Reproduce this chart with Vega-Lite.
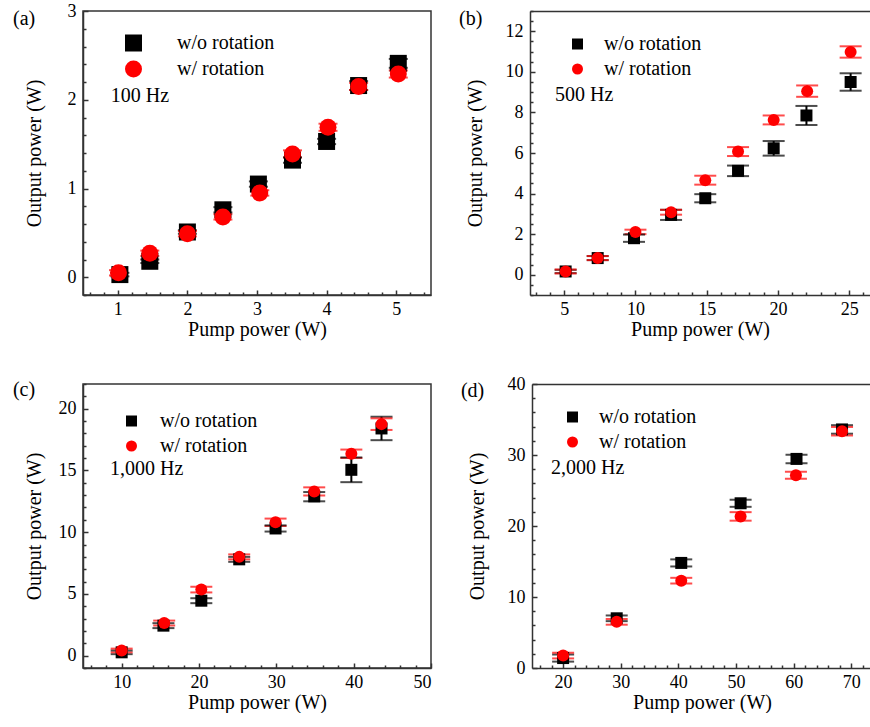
{
  "$schema": "https://vega.github.io/schema/vega-lite/v6.json",
  "padding": {"left": 12, "top": 1, "right": 0, "bottom": 0},
  "background": "white",
  "config": {
    "font": "Liberation Serif",
    "axis": {"domainColor": "#333", "domainWidth": 1.5, "tickColor": "#333", "tickWidth": 1.5, "labelFont": "Liberation Serif", "labelFontSize": 18, "labelColor": "#000", "titleFont": "Liberation Serif", "titleFontSize": 20, "titleFontWeight": "normal", "titleColor": "#000", "grid": false},
    "legend": {"labelFont": "Liberation Serif", "labelFontSize": 20, "labelColor": "#000", "padding": 0, "symbolStrokeWidth": 0},
    "text": {"font": "Liberation Serif", "fontSize": 20, "color": "#000"}
  },
  "datasets": {
    "a": [
      {"x": 1.03, "y": 0.03, "lo": 0.01, "hi": 0.05, "s": "w/o rotation"},
      {"x": 1.46, "y": 0.18, "lo": 0.16, "hi": 0.20, "s": "w/o rotation"},
      {"x": 2.00, "y": 0.51, "lo": 0.49, "hi": 0.53, "s": "w/o rotation"},
      {"x": 2.51, "y": 0.76, "lo": 0.73, "hi": 0.79, "s": "w/o rotation"},
      {"x": 3.02, "y": 1.05, "lo": 1.02, "hi": 1.08, "s": "w/o rotation"},
      {"x": 3.51, "y": 1.32, "lo": 1.29, "hi": 1.35, "s": "w/o rotation"},
      {"x": 4.00, "y": 1.53, "lo": 1.50, "hi": 1.56, "s": "w/o rotation"},
      {"x": 4.46, "y": 2.16, "lo": 2.11, "hi": 2.21, "s": "w/o rotation"},
      {"x": 5.03, "y": 2.41, "lo": 2.36, "hi": 2.46, "s": "w/o rotation"},
      {"x": 1.01, "y": 0.05, "lo": 0.02, "hi": 0.08, "s": "w/ rotation"},
      {"x": 1.46, "y": 0.27, "lo": 0.24, "hi": 0.30, "s": "w/ rotation"},
      {"x": 2.00, "y": 0.49, "lo": 0.46, "hi": 0.52, "s": "w/ rotation"},
      {"x": 2.51, "y": 0.68, "lo": 0.65, "hi": 0.71, "s": "w/ rotation"},
      {"x": 3.04, "y": 0.95, "lo": 0.92, "hi": 0.98, "s": "w/ rotation"},
      {"x": 3.51, "y": 1.39, "lo": 1.35, "hi": 1.43, "s": "w/ rotation"},
      {"x": 4.02, "y": 1.69, "lo": 1.65, "hi": 1.73, "s": "w/ rotation"},
      {"x": 4.46, "y": 2.15, "lo": 2.11, "hi": 2.19, "s": "w/ rotation"},
      {"x": 5.03, "y": 2.29, "lo": 2.25, "hi": 2.33, "s": "w/ rotation"}
    ],
    "b": [
      {"x": 5.1, "y": 0.16, "lo": 0.08, "hi": 0.24, "s": "w/o rotation"},
      {"x": 7.35, "y": 0.82, "lo": 0.72, "hi": 0.92, "s": "w/o rotation"},
      {"x": 9.9, "y": 1.80, "lo": 1.62, "hi": 1.98, "s": "w/o rotation"},
      {"x": 12.5, "y": 2.95, "lo": 2.70, "hi": 3.20, "s": "w/o rotation"},
      {"x": 14.9, "y": 3.77, "lo": 3.57, "hi": 3.97, "s": "w/o rotation"},
      {"x": 17.2, "y": 5.12, "lo": 4.86, "hi": 5.38, "s": "w/o rotation"},
      {"x": 19.7, "y": 6.23, "lo": 5.87, "hi": 6.59, "s": "w/o rotation"},
      {"x": 22.0, "y": 7.85, "lo": 7.38, "hi": 8.32, "s": "w/o rotation"},
      {"x": 25.1, "y": 9.50, "lo": 9.07, "hi": 9.93, "s": "w/o rotation"},
      {"x": 5.1, "y": 0.16, "lo": 0.06, "hi": 0.26, "s": "w/ rotation"},
      {"x": 7.35, "y": 0.82, "lo": 0.72, "hi": 0.92, "s": "w/ rotation"},
      {"x": 10.0, "y": 2.10, "lo": 2.00, "hi": 2.22, "s": "w/ rotation"},
      {"x": 12.5, "y": 3.08, "lo": 2.96, "hi": 3.20, "s": "w/ rotation"},
      {"x": 14.9, "y": 4.66, "lo": 4.44, "hi": 4.88, "s": "w/ rotation"},
      {"x": 17.2, "y": 6.07, "lo": 5.85, "hi": 6.29, "s": "w/ rotation"},
      {"x": 19.7, "y": 7.63, "lo": 7.41, "hi": 7.85, "s": "w/ rotation"},
      {"x": 22.05, "y": 9.05, "lo": 8.77, "hi": 9.33, "s": "w/ rotation"},
      {"x": 25.1, "y": 10.98, "lo": 10.70, "hi": 11.26, "s": "w/ rotation"}
    ],
    "c": [
      {"x": 10.0, "y": 0.27, "lo": 0.12, "hi": 0.42, "s": "w/o rotation"},
      {"x": 15.4, "y": 2.43, "lo": 2.23, "hi": 2.63, "s": "w/o rotation"},
      {"x": 20.3, "y": 4.45, "lo": 4.25, "hi": 4.65, "s": "w/o rotation"},
      {"x": 25.2, "y": 7.80, "lo": 7.60, "hi": 8.00, "s": "w/o rotation"},
      {"x": 29.9, "y": 10.30, "lo": 10.05, "hi": 10.55, "s": "w/o rotation"},
      {"x": 34.9, "y": 12.90, "lo": 12.50, "hi": 13.25, "s": "w/o rotation"},
      {"x": 39.7, "y": 15.05, "lo": 14.05, "hi": 16.05, "s": "w/o rotation"},
      {"x": 43.6, "y": 18.40, "lo": 17.45, "hi": 19.35, "s": "w/o rotation"},
      {"x": 10.0, "y": 0.42, "lo": 0.27, "hi": 0.57, "s": "w/ rotation"},
      {"x": 15.5, "y": 2.64, "lo": 2.44, "hi": 2.84, "s": "w/ rotation"},
      {"x": 20.3, "y": 5.35, "lo": 5.12, "hi": 5.58, "s": "w/ rotation"},
      {"x": 25.2, "y": 8.00, "lo": 7.80, "hi": 8.20, "s": "w/ rotation"},
      {"x": 29.9, "y": 10.80, "lo": 10.50, "hi": 11.10, "s": "w/ rotation"},
      {"x": 34.9, "y": 13.30, "lo": 12.97, "hi": 13.63, "s": "w/ rotation"},
      {"x": 39.7, "y": 16.35, "lo": 16.01, "hi": 16.69, "s": "w/ rotation"},
      {"x": 43.6, "y": 18.75, "lo": 18.28, "hi": 19.22, "s": "w/ rotation"}
    ],
    "d": [
      {"x": 20.0, "y": 1.40, "lo": 0.90, "hi": 1.90, "s": "w/o rotation"},
      {"x": 29.3, "y": 7.00, "lo": 6.60, "hi": 7.40, "s": "w/o rotation"},
      {"x": 40.5, "y": 14.80, "lo": 14.30, "hi": 15.30, "s": "w/o rotation"},
      {"x": 50.8, "y": 23.20, "lo": 22.70, "hi": 23.70, "s": "w/o rotation"},
      {"x": 60.5, "y": 29.45, "lo": 28.85, "hi": 30.05, "s": "w/o rotation"},
      {"x": 68.4, "y": 33.60, "lo": 33.00, "hi": 34.20, "s": "w/o rotation"},
      {"x": 20.0, "y": 1.75, "lo": 1.35, "hi": 2.15, "s": "w/ rotation"},
      {"x": 29.3, "y": 6.50, "lo": 6.10, "hi": 6.90, "s": "w/ rotation"},
      {"x": 40.5, "y": 12.30, "lo": 11.90, "hi": 12.70, "s": "w/ rotation"},
      {"x": 50.8, "y": 21.35, "lo": 20.75, "hi": 21.95, "s": "w/ rotation"},
      {"x": 60.4, "y": 27.15, "lo": 26.65, "hi": 27.65, "s": "w/ rotation"},
      {"x": 68.4, "y": 33.35, "lo": 32.75, "hi": 33.95, "s": "w/ rotation"}
    ]
  },
  "resolve": {"scale": {"color": "independent", "shape": "independent"}, "legend": {"color": "independent", "shape": "independent"}},
  "spacing": 35,
  "vconcat": [
    {
      "spacing": 27,
      "resolve": {"scale": {"color": "independent", "shape": "independent"}, "legend": {"color": "independent", "shape": "independent"}},
      "hconcat": [
        {
          "width": 348, "height": 284,
          "view": {"stroke": "#333", "strokeWidth": 1.5},
          "data": {"name": "a"},
          "resolve": {"axis": {"x": "independent", "y": "independent"}},
          "layer": [
            {
              "mark": {"type": "rule", "strokeWidth": 2},
              "encoding": {
                "x": {"field": "x", "type": "quantitative", "scale": {"domain": [0.5, 5.5], "nice": false, "zero": false}, "axis": {"orient": "bottom", "values": [1, 2, 3, 4, 5], "ticks": false, "labelPadding": 5, "title": "Pump power (W)", "titlePadding": 1, "labelFont": "Liberation Serif", "titleFont": "Liberation Serif"}},
                "y": {"field": "lo", "type": "quantitative", "scale": {"domain": [-0.2, 3], "nice": false, "zero": false}, "axis": {"orient": "left", "values": [0, 1, 2, 3], "ticks": false, "labelPadding": 7, "title": "Output power (W)", "minExtent": 30, "maxExtent": 30, "titlePadding": 9, "labelFont": "Liberation Serif", "titleFont": "Liberation Serif"}},
                "y2": {"field": "hi"},
                "color": {"condition": {"test": "datum.s === 'w/o rotation'", "value": "#000000"}, "value": "#ff0000"}
              }
            },
            {
              "mark": {"type": "tick", "orient": "horizontal", "size": 19, "thickness": 2},
              "encoding": {
                "x": {"field": "x", "type": "quantitative", "axis": null},
                "y": {"field": "lo", "type": "quantitative", "axis": null},
                "color": {"condition": {"test": "datum.s === 'w/o rotation'", "value": "#000000"}, "value": "#ff0000"}
              }
            },
            {
              "mark": {"type": "tick", "orient": "horizontal", "size": 19, "thickness": 2},
              "encoding": {
                "x": {"field": "x", "type": "quantitative", "axis": null},
                "y": {"field": "hi", "type": "quantitative", "axis": null},
                "color": {"condition": {"test": "datum.s === 'w/o rotation'", "value": "#000000"}, "value": "#ff0000"}
              }
            },
            {
              "mark": {"type": "point", "filled": true, "opacity": 1, "size": 289, "strokeWidth": 0},
              "encoding": {
                "x": {"field": "x", "type": "quantitative", "axis": null},
                "y": {"field": "y", "type": "quantitative", "axis": null},
                "color": {"field": "s", "type": "nominal", "scale": {"domain": ["w/o rotation", "w/ rotation"], "range": ["#000000", "#ff0000"]}, "legend": {"orient": "none", "legendX": 40.5, "legendY": 22, "title": null, "symbolSize": 289, "labelOffset": 33.5, "rowPadding": 6, "labelFont": "Liberation Serif", "labelFontSize": 20}},
                "shape": {"field": "s", "type": "nominal", "scale": {"domain": ["w/o rotation", "w/ rotation"], "range": ["square", "circle"]}, "legend": {"orient": "none", "legendX": 40.5, "legendY": 22, "title": null, "symbolSize": 289, "labelOffset": 33.5, "rowPadding": 6, "labelFont": "Liberation Serif", "labelFontSize": 20}}
              }
            },
            {
              "data": {"values": [{}]},
              "mark": {"type": "text", "align": "left", "baseline": "alphabetic"},
              "encoding": {
                "x": {"datum": 0.9, "type": "quantitative", "axis": null},
                "y": {"datum": 1.98, "type": "quantitative", "axis": null},
                "text": {"value": "100 Hz"}
              }
            },
            {
              "data": {"values": [{}]},
              "mark": {"type": "text", "align": "left", "baseline": "alphabetic"},
              "encoding": {
                "x": {"datum": -0.506, "type": "quantitative", "axis": null},
                "y": {"datum": 2.837, "type": "quantitative", "axis": null},
                "text": {"value": "(a)"}
              }
            },
            {
              "mark": {"type": "point", "opacity": 0},
              "encoding": {
                "x": {"field": "x", "type": "quantitative", "axis": {"orient": "bottom", "values": [0.6, 0.8, 1, 1.2, 1.4, 1.6, 1.8, 2, 2.2, 2.4, 2.6, 2.8, 3, 3.2, 3.4, 3.6, 3.8, 4, 4.2, 4.4, 4.6, 4.8, 5, 5.2, 5.4], "labels": false, "domain": false, "title": null, "tickSize": {"condition": {"test": "datum.value % 1 === 0", "value": -5}, "value": -3}}},
                "y": {"field": "y", "type": "quantitative", "axis": {"orient": "left", "values": [-0.2, 0, 0.2, 0.4, 0.6, 0.8, 1, 1.2, 1.4, 1.6, 1.8, 2, 2.2, 2.4, 2.6, 2.8, 3], "labels": false, "domain": false, "title": null, "tickSize": {"condition": {"test": "datum.value % 1 === 0", "value": -5}, "value": -3}}}
              }
            }
          ]
        },
        {
          "width": 340, "height": 284,
          "view": {"stroke": null},
          "data": {"name": "b"},
          "resolve": {"axis": {"x": "independent", "y": "independent"}},
          "layer": [
            {
              "mark": {"type": "rule", "strokeWidth": 2},
              "encoding": {
                "x": {"field": "x", "type": "quantitative", "scale": {"domain": [2.6, 26.46], "nice": false, "zero": false}, "axis": {"orient": "bottom", "values": [5, 10, 15, 20, 25], "ticks": false, "labelPadding": 5, "title": "Pump power (W)", "titlePadding": 1, "labelFont": "Liberation Serif", "titleFont": "Liberation Serif"}},
                "y": {"field": "lo", "type": "quantitative", "scale": {"domain": [-1, 13], "nice": false, "zero": false}, "axis": {"orient": "left", "values": [0, 2, 4, 6, 8, 10, 12], "ticks": false, "labelPadding": 7, "title": "Output power (W)", "minExtent": 30, "maxExtent": 30, "titlePadding": 15, "labelFont": "Liberation Serif", "titleFont": "Liberation Serif"}},
                "y2": {"field": "hi"},
                "color": {"condition": {"test": "datum.s === 'w/o rotation'", "value": "#000000"}, "value": "#ff0000"}
              }
            },
            {
              "mark": {"type": "tick", "orient": "horizontal", "size": 22, "thickness": 2},
              "encoding": {
                "x": {"field": "x", "type": "quantitative", "axis": null},
                "y": {"field": "lo", "type": "quantitative", "axis": null},
                "color": {"condition": {"test": "datum.s === 'w/o rotation'", "value": "#000000"}, "value": "#ff0000"}
              }
            },
            {
              "mark": {"type": "tick", "orient": "horizontal", "size": 22, "thickness": 2},
              "encoding": {
                "x": {"field": "x", "type": "quantitative", "axis": null},
                "y": {"field": "hi", "type": "quantitative", "axis": null},
                "color": {"condition": {"test": "datum.s === 'w/o rotation'", "value": "#000000"}, "value": "#ff0000"}
              }
            },
            {
              "mark": {"type": "point", "filled": true, "opacity": 1, "size": 144, "strokeWidth": 0},
              "encoding": {
                "x": {"field": "x", "type": "quantitative", "axis": null},
                "y": {"field": "y", "type": "quantitative", "axis": null},
                "color": {"field": "s", "type": "nominal", "scale": {"domain": ["w/o rotation", "w/ rotation"], "range": ["#000000", "#ff0000"]}, "legend": {"orient": "none", "legendX": 37.5, "legendY": 23, "title": null, "symbolSize": 121, "labelOffset": 16.5, "rowPadding": 5, "labelFont": "Liberation Serif", "labelFontSize": 20}},
                "shape": {"field": "s", "type": "nominal", "scale": {"domain": ["w/o rotation", "w/ rotation"], "range": ["square", "circle"]}, "legend": {"orient": "none", "legendX": 37.5, "legendY": 23, "title": null, "symbolSize": 121, "labelOffset": 16.5, "rowPadding": 5, "labelFont": "Liberation Serif", "labelFontSize": 20}}
              }
            },
            {
              "data": {"values": [{}]},
              "mark": {"type": "text", "align": "left", "baseline": "alphabetic"},
              "encoding": {
                "x": {"datum": 4.35, "type": "quantitative", "axis": null},
                "y": {"datum": 8.56, "type": "quantitative", "axis": null},
                "text": {"value": "500 Hz"}
              }
            },
            {
              "data": {"values": [{}]},
              "mark": {"type": "text", "align": "left", "baseline": "alphabetic"},
              "encoding": {
                "x": {"datum": -2.38, "type": "quantitative", "axis": null},
                "y": {"datum": 12.33, "type": "quantitative", "axis": null},
                "text": {"value": "(b)"}
              }
            },
            {
              "mark": {"type": "point", "opacity": 0},
              "encoding": {
                "x": {"field": "x", "type": "quantitative", "axis": {"orient": "bottom", "values": [3, 4, 5, 6, 7, 8, 9, 10, 11, 12, 13, 14, 15, 16, 17, 18, 19, 20, 21, 22, 23, 24, 25, 26], "labels": false, "domain": false, "title": null, "tickSize": {"condition": {"test": "datum.value % 5 === 0", "value": -5}, "value": -3}}},
                "y": {"field": "y", "type": "quantitative", "axis": {"orient": "left", "values": [-1, -0.5, 0, 0.5, 1, 1.5, 2, 2.5, 3, 3.5, 4, 4.5, 5, 5.5, 6, 6.5, 7, 7.5, 8, 8.5, 9, 9.5, 10, 10.5, 11, 11.5, 12, 12.5, 13], "labels": false, "domain": false, "title": null, "tickSize": {"condition": {"test": "datum.value % 2 === 0", "value": -5}, "value": -3}}}
              }
            },
            {
              "mark": {"type": "point", "opacity": 0},
              "encoding": {
                "x": {"field": "x", "type": "quantitative", "axis": {"orient": "top", "ticks": false, "labels": false, "domain": true, "title": null}},
                "y": {"field": "y", "type": "quantitative", "axis": null}
              }
            }
          ]
        }
      ]
    },
    {
      "spacing": 27,
      "resolve": {"scale": {"color": "independent", "shape": "independent"}, "legend": {"color": "independent", "shape": "independent"}},
      "hconcat": [
        {
          "width": 348, "height": 284,
          "view": {"stroke": "#333", "strokeWidth": 1.5},
          "data": {"name": "c"},
          "resolve": {"axis": {"x": "independent", "y": "independent"}},
          "layer": [
            {
              "mark": {"type": "rule", "strokeWidth": 2},
              "encoding": {
                "x": {"field": "x", "type": "quantitative", "scale": {"domain": [5, 50], "nice": false, "zero": false}, "axis": {"orient": "bottom", "values": [10, 20, 30, 40, 50], "ticks": false, "labelPadding": 5, "title": "Pump power (W)", "titlePadding": 1, "labelFont": "Liberation Serif", "titleFont": "Liberation Serif"}},
                "y": {"field": "lo", "type": "quantitative", "scale": {"domain": [-1, 22], "nice": false, "zero": false}, "axis": {"orient": "left", "values": [0, 5, 10, 15, 20], "ticks": false, "labelPadding": 7, "title": "Output power (W)", "minExtent": 30, "maxExtent": 30, "titlePadding": 9, "labelFont": "Liberation Serif", "titleFont": "Liberation Serif"}},
                "y2": {"field": "hi"},
                "color": {"condition": {"test": "datum.s === 'w/o rotation'", "value": "#000000"}, "value": "#ff0000"}
              }
            },
            {
              "mark": {"type": "tick", "orient": "horizontal", "size": 22, "thickness": 2},
              "encoding": {
                "x": {"field": "x", "type": "quantitative", "axis": null},
                "y": {"field": "lo", "type": "quantitative", "axis": null},
                "color": {"condition": {"test": "datum.s === 'w/o rotation'", "value": "#000000"}, "value": "#ff0000"}
              }
            },
            {
              "mark": {"type": "tick", "orient": "horizontal", "size": 22, "thickness": 2},
              "encoding": {
                "x": {"field": "x", "type": "quantitative", "axis": null},
                "y": {"field": "hi", "type": "quantitative", "axis": null},
                "color": {"condition": {"test": "datum.s === 'w/o rotation'", "value": "#000000"}, "value": "#ff0000"}
              }
            },
            {
              "mark": {"type": "point", "filled": true, "opacity": 1, "size": 144, "strokeWidth": 0},
              "encoding": {
                "x": {"field": "x", "type": "quantitative", "axis": null},
                "y": {"field": "y", "type": "quantitative", "axis": null},
                "color": {"field": "s", "type": "nominal", "scale": {"domain": ["w/o rotation", "w/ rotation"], "range": ["#000000", "#ff0000"]}, "legend": {"orient": "none", "legendX": 38.5, "legendY": 27, "title": null, "symbolSize": 121, "labelOffset": 18.5, "rowPadding": 5, "labelFont": "Liberation Serif", "labelFontSize": 20}},
                "shape": {"field": "s", "type": "nominal", "scale": {"domain": ["w/o rotation", "w/ rotation"], "range": ["square", "circle"]}, "legend": {"orient": "none", "legendX": 38.5, "legendY": 27, "title": null, "symbolSize": 121, "labelOffset": 18.5, "rowPadding": 5, "labelFont": "Liberation Serif", "labelFontSize": 20}}
              }
            },
            {
              "data": {"values": [{}]},
              "mark": {"type": "text", "align": "left", "baseline": "alphabetic"},
              "encoding": {
                "x": {"datum": 8.49, "type": "quantitative", "axis": null},
                "y": {"datum": 14.6, "type": "quantitative", "axis": null},
                "text": {"value": "1,000 Hz"}
              }
            },
            {
              "data": {"values": [{}]},
              "mark": {"type": "text", "align": "left", "baseline": "alphabetic"},
              "encoding": {
                "x": {"datum": -4.06, "type": "quantitative", "axis": null},
                "y": {"datum": 21.03, "type": "quantitative", "axis": null},
                "text": {"value": "(c)"}
              }
            },
            {
              "mark": {"type": "point", "opacity": 0},
              "encoding": {
                "x": {"field": "x", "type": "quantitative", "axis": {"orient": "bottom", "values": [6, 8, 10, 12, 14, 16, 18, 20, 22, 24, 26, 28, 30, 32, 34, 36, 38, 40, 42, 44, 46, 48, 50], "labels": false, "domain": false, "title": null, "tickSize": {"condition": {"test": "datum.value % 10 === 0", "value": -5}, "value": -3}}},
                "y": {"field": "y", "type": "quantitative", "axis": {"orient": "left", "values": [-1, 0, 1, 2, 3, 4, 5, 6, 7, 8, 9, 10, 11, 12, 13, 14, 15, 16, 17, 18, 19, 20, 21, 22], "labels": false, "domain": false, "title": null, "tickSize": {"condition": {"test": "datum.value % 5 === 0", "value": -5}, "value": -3}}}
              }
            }
          ]
        },
        {
          "width": 340, "height": 284,
          "view": {"stroke": null},
          "data": {"name": "d"},
          "resolve": {"axis": {"x": "independent", "y": "independent"}},
          "layer": [
            {
              "mark": {"type": "rule", "strokeWidth": 2},
              "encoding": {
                "x": {"field": "x", "type": "quantitative", "scale": {"domain": [14.6, 73.6], "nice": false, "zero": false}, "axis": {"orient": "bottom", "values": [20, 30, 40, 50, 60, 70], "ticks": false, "labelPadding": 5, "title": "Pump power (W)", "titlePadding": 1, "labelFont": "Liberation Serif", "titleFont": "Liberation Serif"}},
                "y": {"field": "lo", "type": "quantitative", "scale": {"domain": [0, 40], "nice": false, "zero": false}, "axis": {"orient": "left", "values": [0, 10, 20, 30, 40], "ticks": false, "labelPadding": 7, "title": "Output power (W)", "minExtent": 30, "maxExtent": 30, "titlePadding": 15, "labelFont": "Liberation Serif", "titleFont": "Liberation Serif"}},
                "y2": {"field": "hi"},
                "color": {"condition": {"test": "datum.s === 'w/o rotation'", "value": "#000000"}, "value": "#ff0000"}
              }
            },
            {
              "mark": {"type": "tick", "orient": "horizontal", "size": 22, "thickness": 2},
              "encoding": {
                "x": {"field": "x", "type": "quantitative", "axis": null},
                "y": {"field": "lo", "type": "quantitative", "axis": null},
                "color": {"condition": {"test": "datum.s === 'w/o rotation'", "value": "#000000"}, "value": "#ff0000"}
              }
            },
            {
              "mark": {"type": "tick", "orient": "horizontal", "size": 22, "thickness": 2},
              "encoding": {
                "x": {"field": "x", "type": "quantitative", "axis": null},
                "y": {"field": "hi", "type": "quantitative", "axis": null},
                "color": {"condition": {"test": "datum.s === 'w/o rotation'", "value": "#000000"}, "value": "#ff0000"}
              }
            },
            {
              "mark": {"type": "point", "filled": true, "opacity": 1, "size": 144, "strokeWidth": 0},
              "encoding": {
                "x": {"field": "x", "type": "quantitative", "axis": null},
                "y": {"field": "y", "type": "quantitative", "axis": null},
                "color": {"field": "s", "type": "nominal", "scale": {"domain": ["w/o rotation", "w/ rotation"], "range": ["#000000", "#ff0000"]}, "legend": {"orient": "none", "legendX": 30.5, "legendY": 23, "title": null, "symbolSize": 121, "labelOffset": 16.5, "rowPadding": 5, "labelFont": "Liberation Serif", "labelFontSize": 20}},
                "shape": {"field": "s", "type": "nominal", "scale": {"domain": ["w/o rotation", "w/ rotation"], "range": ["square", "circle"]}, "legend": {"orient": "none", "legendX": 30.5, "legendY": 23, "title": null, "symbolSize": 121, "labelOffset": 16.5, "rowPadding": 5, "labelFont": "Liberation Serif", "labelFontSize": 20}}
              }
            },
            {
              "data": {"values": [{}]},
              "mark": {"type": "text", "align": "left", "baseline": "alphabetic"},
              "encoding": {
                "x": {"datum": 17.9, "type": "quantitative", "axis": null},
                "y": {"datum": 27.3, "type": "quantitative", "axis": null},
                "text": {"value": "2,000 Hz"}
              }
            },
            {
              "data": {"values": [{}]},
              "mark": {"type": "text", "align": "left", "baseline": "alphabetic"},
              "encoding": {
                "x": {"datum": 2.27, "type": "quantitative", "axis": null},
                "y": {"datum": 38.17, "type": "quantitative", "axis": null},
                "text": {"value": "(d)"}
              }
            },
            {
              "mark": {"type": "point", "opacity": 0},
              "encoding": {
                "x": {"field": "x", "type": "quantitative", "axis": {"orient": "bottom", "values": [16, 18, 20, 22, 24, 26, 28, 30, 32, 34, 36, 38, 40, 42, 44, 46, 48, 50, 52, 54, 56, 58, 60, 62, 64, 66, 68, 70, 72], "labels": false, "domain": false, "title": null, "tickSize": {"condition": {"test": "datum.value % 10 === 0", "value": -5}, "value": -3}}},
                "y": {"field": "y", "type": "quantitative", "axis": {"orient": "left", "values": [0, 2, 4, 6, 8, 10, 12, 14, 16, 18, 20, 22, 24, 26, 28, 30, 32, 34, 36, 38, 40], "labels": false, "domain": false, "title": null, "tickSize": {"condition": {"test": "datum.value % 10 === 0", "value": -5}, "value": -3}}}
              }
            },
            {
              "mark": {"type": "point", "opacity": 0},
              "encoding": {
                "x": {"field": "x", "type": "quantitative", "axis": {"orient": "top", "ticks": false, "labels": false, "domain": true, "title": null}},
                "y": {"field": "y", "type": "quantitative", "axis": null}
              }
            }
          ]
        }
      ]
    }
  ]
}
